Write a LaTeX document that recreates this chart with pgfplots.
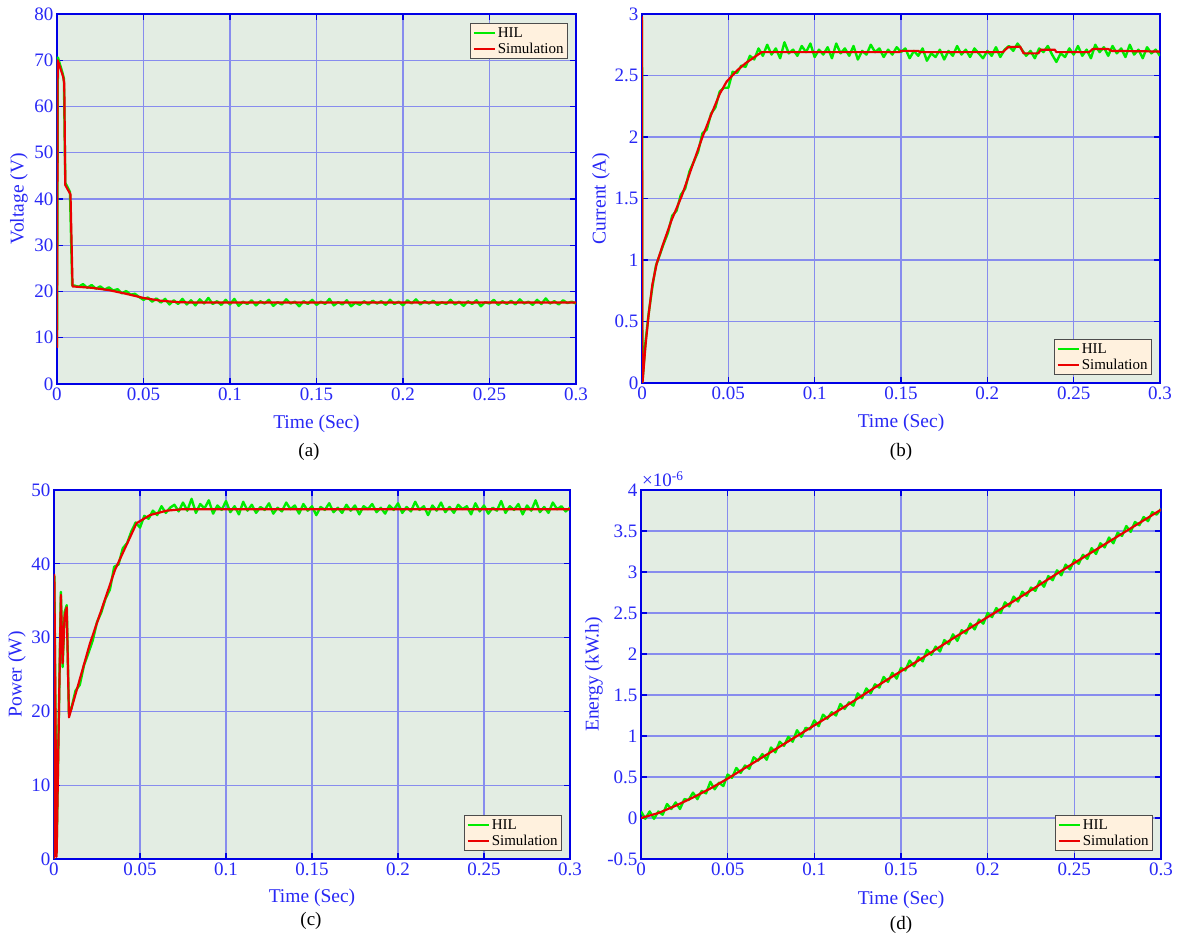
\documentclass[border=0pt]{standalone}
\usepackage{fontspec}
\setmainfont{Liberation Serif}
\usepackage{pgfplots}
\pgfplotsset{compat=1.18}
\definecolor{bgc}{RGB}{227,237,227}
\definecolor{legc}{RGB}{255,241,222}
\definecolor{gridc}{RGB}{135,140,238}
\definecolor{axc}{RGB}{0,0,230}
\definecolor{txtc}{RGB}{40,40,245}
\definecolor{hil}{RGB}{0,235,0}
\definecolor{sim}{RGB}{235,0,0}
\pgfplotsset{
 panel/.style={
  scale only axis, anchor=south west, clip mode=individual,
  axis background/.style={fill=bgc},
  xmin=0,xmax=0.3,
  xtick={0,0.05,0.1,0.15,0.2,0.25,0.3},
  xticklabels={0,0.05,0.1,0.15,0.2,0.25,0.3},
  grid=major, major grid style={gridc, line width=1.1pt},
  axis line style={axc, line width=1.3pt},
  major tick style={axc, line width=1.2pt}, major tick length=6pt,
  tick label style={text=txtc, font=\fontsize{19}{22}\selectfont},
  label style={text=txtc, font=\fontsize{19.5}{23}\selectfont},
  xlabel={Time (Sec)},
  legend cell align=left,
  legend style={fill=legc, draw=black!70, line width=0.8pt, font=\fontsize{15}{17}\selectfont, inner sep=2pt, row sep=0pt},
  legend image code/.code={\draw[#1] (0pt,0pt) -- (21pt,0pt);},
  every axis plot/.append style={line join=round},
 },
 hilst/.style={hil, line width=2.4pt},
 simst/.style={sim, line width=2.2pt},
}
\begin{document}
\begin{tikzpicture}
\useasboundingbox (0,0) rectangle (1179pt,935pt);
% ---------------- (a) ----------------
\begin{axis}[panel, at={(57pt,551pt)}, width=519pt, height=370pt,
  ymin=0, ymax=80, ytick={0,10,20,30,40,50,60,70,80}, yticklabels={0,10,20,30,40,50,60,70,80},
  ylabel={Voltage (V)},
  x label style={at={([yshift=-40pt]axis description cs:0.5,0)}, anchor=center},
  y label style={at={([xshift=-38pt]axis description cs:0,0.5)}, anchor=center},
  legend style={at={([xshift=-8pt,yshift=-9pt]rel axis cs:1,1)}, anchor=north east}]
\addplot[hilst] coordinates {
(0,8) (0.0005,70.6) (0.003,67.5) (0.004,66) (0.0048,43.5) (0.0075,41.5) (0.0088,21.3)
(0.0100,21.3) (0.0125,21.0) (0.0150,21.6) (0.0175,20.8) (0.0200,21.4) (0.0225,20.6)
(0.0250,21.1) (0.0275,20.4) (0.0300,20.9) (0.0325,20.2) (0.0350,20.5) (0.0375,19.6)
(0.0400,20.1) (0.0425,19.3) (0.0450,19.5) (0.0475,18.8) (0.0500,18.2) (0.0525,18.7)
(0.0550,17.8) (0.0575,18.5) (0.0600,17.6) (0.0625,18.4) (0.0650,17.2) (0.0675,18.1)
(0.0700,17.3) (0.0725,18.4) (0.0750,17.2) (0.0775,18.1) (0.0800,17.0) (0.0825,18.3)
(0.0850,17.4) (0.0875,18.6) (0.0900,17.3) (0.0925,17.9) (0.0950,17.1) (0.0975,18.2)
(0.1000,17.2) (0.1025,18.4) (0.1050,16.9) (0.1075,17.8) (0.1100,17.3) (0.1125,18.1)
(0.1150,17.0) (0.1175,17.9) (0.1200,17.4) (0.1225,18.2) (0.1250,16.9) (0.1275,17.7)
(0.1300,17.2) (0.1325,18.3) (0.1350,17.4) (0.1375,17.8) (0.1400,16.8) (0.1425,17.9)
(0.1450,17.3) (0.1475,18.2) (0.1500,17.1) (0.1525,17.8) (0.1550,17.3) (0.1575,18.4)
(0.1600,17.0) (0.1625,17.7) (0.1650,17.2) (0.1675,18.1) (0.1700,16.8) (0.1725,17.6)
(0.1750,17.1) (0.1775,17.9) (0.1800,17.2) (0.1825,18.0) (0.1850,17.4) (0.1875,17.9)
(0.1900,17.1) (0.1925,18.2) (0.1950,17.3) (0.1975,17.8) (0.2000,17.0) (0.2025,18.1)
(0.2050,17.4) (0.2075,18.3) (0.2100,17.2) (0.2125,17.9) (0.2150,17.4) (0.2175,18.0)
(0.2200,17.1) (0.2225,17.7) (0.2250,17.3) (0.2275,18.2) (0.2300,17.2) (0.2325,17.8)
(0.2350,16.9) (0.2375,17.9) (0.2400,17.3) (0.2425,18.1) (0.2450,16.8) (0.2475,17.7)
(0.2500,17.4) (0.2525,18.2) (0.2550,17.1) (0.2575,17.9) (0.2600,17.3) (0.2625,18.0)
(0.2650,17.2) (0.2675,18.3) (0.2700,17.4) (0.2725,17.8) (0.2750,17.1) (0.2775,18.2)
(0.2800,17.3) (0.2825,18.5) (0.2850,17.4) (0.2875,17.9) (0.2900,17.2) (0.2925,18.1)
(0.2950,17.5) (0.2975,17.8) (0.3000,17.4)
};
\addlegendentry{HIL}
\addplot[simst] coordinates {
(0,7.8) (0.0004,70) (0.0035,66.5) (0.0042,65) (0.0048,43) (0.0078,41) (0.009,21.1)
(0.02,20.8) (0.03,20.3) (0.04,19.5) (0.05,18.6) (0.06,18.0) (0.07,17.7) (0.08,17.6) (0.3,17.6)
};
\addlegendentry{Simulation}
\end{axis}
% ---------------- (b) ----------------
\begin{axis}[panel, at={(642pt,552pt)}, width=518pt, height=369pt,
  ymin=0, ymax=3, ytick={0,0.5,1,1.5,2,2.5,3}, yticklabels={0,0.5,1,1.5,2,2.5,3},
  ylabel={Current (A)},
  x label style={at={([yshift=-40pt]axis description cs:0.5,0)}, anchor=center},
  y label style={at={([xshift=-41pt]axis description cs:0,0.5)}, anchor=center},
  legend style={at={([xshift=-8pt,yshift=8pt]rel axis cs:1,0)}, anchor=south east}]
\addplot[hilst] coordinates {
(0,2.95) (0.0002,0.0) (0.002,0.33) (0.004,0.58) (0.006,0.78) (0.008,0.95) (0.010,1.03)
(0.0125,1.13) (0.015,1.22) (0.0175,1.36) (0.020,1.40) (0.0225,1.53) (0.025,1.58)
(0.0275,1.72) (0.030,1.80) (0.0325,1.88) (0.035,2.03) (0.0375,2.06) (0.040,2.19)
(0.0425,2.24) (0.045,2.37) (0.0475,2.40) (0.050,2.40) (0.0525,2.53) (0.055,2.52)
(0.0575,2.58) (0.060,2.57) (0.0625,2.66) (0.065,2.63) (0.0675,2.72) (0.070,2.66)
(0.0725,2.75) (0.075,2.67) (0.0775,2.72) (0.080,2.64) (0.0825,2.77) (0.085,2.68)
(0.0875,2.71) (0.090,2.66) (0.0925,2.74) (0.095,2.69) (0.0975,2.76) (0.100,2.65)
(0.1025,2.71) (0.105,2.67) (0.1075,2.73) (0.110,2.64) (0.1125,2.76) (0.115,2.68)
(0.1175,2.72) (0.120,2.66) (0.1225,2.74) (0.125,2.63) (0.1275,2.70) (0.130,2.67)
(0.1325,2.75) (0.135,2.69) (0.1375,2.72) (0.140,2.65) (0.1425,2.71) (0.145,2.67)
(0.1475,2.73) (0.150,2.69) (0.1525,2.72) (0.155,2.64) (0.1575,2.70) (0.160,2.66)
(0.1625,2.72) (0.165,2.62) (0.1675,2.68) (0.170,2.65) (0.1725,2.71) (0.175,2.63)
(0.1775,2.70) (0.180,2.66) (0.1825,2.74) (0.185,2.67) (0.1875,2.71) (0.190,2.65)
(0.1925,2.72) (0.195,2.68) (0.1975,2.64) (0.200,2.70) (0.2025,2.66) (0.205,2.73)
(0.2075,2.65) (0.210,2.71) (0.2125,2.74) (0.215,2.70) (0.2175,2.76) (0.220,2.71)
(0.2225,2.66) (0.225,2.70) (0.2275,2.64) (0.230,2.72) (0.2325,2.69) (0.235,2.74)
(0.2375,2.67) (0.240,2.61) (0.2425,2.68) (0.245,2.65) (0.2475,2.72) (0.250,2.67)
(0.2525,2.74) (0.255,2.66) (0.2575,2.71) (0.260,2.64) (0.2625,2.75) (0.265,2.69)
(0.2675,2.73) (0.270,2.66) (0.2725,2.74) (0.275,2.68) (0.2775,2.72) (0.280,2.65)
(0.2825,2.75) (0.285,2.67) (0.2875,2.71) (0.290,2.64) (0.2925,2.73) (0.295,2.68)
(0.2975,2.71) (0.300,2.66)
};
\addlegendentry{HIL}
\addplot[simst] coordinates {
(0,2.98) (0.0002,0.0) (0.0004,0.02) (0.002,0.3) (0.0037,0.54) (0.006,0.8) (0.0085,0.97)
(0.012,1.12) (0.017,1.32) (0.023,1.52) (0.03,1.8) (0.035,2.0) (0.04,2.18) (0.045,2.35)
(0.049,2.45) (0.055,2.54) (0.06,2.6) (0.0693,2.69) (0.149,2.69) (0.150,2.70) (0.160,2.70)
(0.161,2.69) (0.209,2.69) (0.212,2.73) (0.219,2.735) (0.221,2.68) (0.2295,2.68)
(0.231,2.71) (0.239,2.71) (0.240,2.69) (0.259,2.69) (0.261,2.715) (0.270,2.715)
(0.272,2.70) (0.3,2.695)
};
\addlegendentry{Simulation}
\end{axis}
% ---------------- (c) ----------------
\begin{axis}[panel, at={(54pt,76pt)}, width=516pt, height=369pt,
  ymin=0, ymax=50, ytick={0,10,20,30,40,50}, yticklabels={0,10,20,30,40,50},
  ylabel={Power (W)},
  x label style={at={([yshift=-39pt]axis description cs:0.5,0)}, anchor=center},
  y label style={at={([xshift=-37pt]axis description cs:0,0.5)}, anchor=center},
  legend style={at={([xshift=-8pt,yshift=8pt]rel axis cs:1,0)}, anchor=south east}]
\addplot[hilst] coordinates {
(0,0) (0.0002,38.3) (0.0015,0.8) (0.004,36.2) (0.005,26.0) (0.0062,33.5) (0.0074,34.4)
(0.0087,19.6) (0.010,20.3) (0.0125,22.8) (0.015,23.6) (0.0175,26.3) (0.020,27.9)
(0.0225,29.6) (0.025,32.1) (0.0275,33.4) (0.030,35.3) (0.0325,36.5) (0.035,39.6)
(0.0375,39.9) (0.040,42.1) (0.0425,42.8) (0.045,44.4) (0.0475,45.6) (0.050,44.9)
(0.0525,46.5) (0.055,46.1) (0.0575,47.2) (0.060,46.6) (0.0625,47.8) (0.065,46.9)
(0.0675,47.6) (0.070,48.0) (0.0725,47.1) (0.075,48.3) (0.0775,47.2) (0.080,48.8)
(0.0825,46.9) (0.085,48.1) (0.0875,47.5) (0.090,48.6) (0.0925,46.8) (0.095,47.9)
(0.0975,47.3) (0.100,48.5) (0.1025,47.0) (0.105,47.8) (0.1075,46.7) (0.110,48.4)
(0.1125,47.2) (0.115,48.0) (0.1175,46.9) (0.120,47.7) (0.1225,47.3) (0.125,48.2)
(0.1275,46.8) (0.130,47.6) (0.1325,47.1) (0.135,48.3) (0.1375,47.4) (0.140,47.9)
(0.1425,46.8) (0.145,48.1) (0.1475,47.2) (0.150,47.8) (0.1525,46.6) (0.155,47.7)
(0.1575,47.3) (0.160,48.2) (0.1625,47.0) (0.165,47.6) (0.1675,46.9) (0.170,48.0)
(0.1725,47.2) (0.175,47.9) (0.1775,46.7) (0.180,47.8) (0.1825,47.4) (0.185,48.1)
(0.1875,47.0) (0.190,47.6) (0.1925,46.8) (0.195,47.9) (0.1975,47.3) (0.200,48.2)
(0.2025,46.9) (0.205,47.7) (0.2075,47.1) (0.210,48.4) (0.2125,47.3) (0.215,47.8)
(0.2175,46.6) (0.220,47.9) (0.2225,47.2) (0.225,48.3) (0.2275,47.0) (0.230,47.7)
(0.2325,46.9) (0.235,48.0) (0.2375,47.4) (0.240,47.8) (0.2425,46.7) (0.245,48.2)
(0.2475,47.1) (0.250,47.9) (0.2525,46.8) (0.255,47.6) (0.2575,47.2) (0.260,48.5)
(0.2625,46.9) (0.265,47.8) (0.2675,47.3) (0.270,48.1) (0.2725,46.7) (0.275,47.9)
(0.2775,47.2) (0.280,48.6) (0.2825,47.0) (0.285,47.7) (0.2875,46.9) (0.290,48.3)
(0.2925,47.4) (0.295,47.8) (0.2975,47.1) (0.300,47.6)
};
\addlegendentry{HIL}
\addplot[simst] coordinates {
(0,0) (0.0002,38.5) (0.0015,0.3) (0.004,35.8) (0.005,26.5) (0.0062,33.0) (0.0074,34.1)
(0.0087,19.2) (0.0209,29.2) (0.0355,39.2) (0.048,45.5) (0.0558,46.6) (0.0655,47.2)
(0.075,47.4) (0.3,47.4)
};
\addlegendentry{Simulation}
\end{axis}
% ---------------- (d) ----------------
\begin{axis}[panel, at={(641pt,76pt)}, width=520pt, height=369pt,
  ymin=-0.5, ymax=4, ytick={-0.5,0,0.5,1,1.5,2,2.5,3,3.5,4}, yticklabels={-0.5,0,0.5,1,1.5,2,2.5,3,3.5,4},
  ylabel={Energy (kW.h)},
  x label style={at={([yshift=-41pt]axis description cs:0.5,0)}, anchor=center},
  y label style={at={([xshift=-47pt]axis description cs:0,0.5)}, anchor=center},
  legend style={at={([xshift=-8pt,yshift=8pt]rel axis cs:1,0)}, anchor=south east}]
\addplot[hilst] coordinates {
(0.0000,0.08) (0.0025,-0.01) (0.0050,0.08) (0.0075,-0.01) (0.0100,0.08) (0.0125,0.04)
(0.0150,0.17) (0.0175,0.11) (0.0200,0.19) (0.0225,0.11) (0.0250,0.23) (0.0275,0.22)
(0.0300,0.31) (0.0325,0.23) (0.0350,0.33) (0.0375,0.30) (0.0400,0.44) (0.0425,0.35)
(0.0450,0.43) (0.0475,0.39) (0.0500,0.53) (0.0525,0.49) (0.0550,0.61) (0.0575,0.55)
(0.0600,0.64) (0.0625,0.60) (0.0650,0.74) (0.0675,0.70) (0.0700,0.78) (0.0725,0.71)
(0.0750,0.86) (0.0775,0.80) (0.0800,0.93) (0.0825,0.88) (0.0850,0.99) (0.0875,0.93)
(0.0900,1.07) (0.0925,0.99) (0.0950,1.10) (0.0975,1.08) (0.1000,1.19) (0.1025,1.12)
(0.1050,1.26) (0.1075,1.21) (0.1100,1.29) (0.1125,1.25) (0.1150,1.39) (0.1175,1.33)
(0.1200,1.41) (0.1225,1.37) (0.1250,1.52) (0.1275,1.46) (0.1300,1.58) (0.1325,1.52)
(0.1350,1.63) (0.1375,1.59) (0.1400,1.72) (0.1425,1.66) (0.1450,1.77) (0.1475,1.70)
(0.1500,1.83) (0.1525,1.80) (0.1550,1.92) (0.1575,1.85) (0.1600,1.96) (0.1625,1.91)
(0.1650,2.05) (0.1675,1.99) (0.1700,2.09) (0.1725,2.03) (0.1750,2.17) (0.1775,2.12)
(0.1800,2.24) (0.1825,2.16) (0.1850,2.29) (0.1875,2.25) (0.1900,2.37) (0.1925,2.30)
(0.1950,2.42) (0.1975,2.37) (0.2000,2.50) (0.2025,2.45) (0.2050,2.56) (0.2075,2.50)
(0.2100,2.63) (0.2125,2.58) (0.2150,2.70) (0.2175,2.64) (0.2200,2.76) (0.2225,2.71)
(0.2250,2.81) (0.2275,2.77) (0.2300,2.89) (0.2325,2.82) (0.2350,2.95) (0.2375,2.90)
(0.2400,3.02) (0.2425,2.96) (0.2450,3.09) (0.2475,3.03) (0.2500,3.15) (0.2525,3.10)
(0.2550,3.21) (0.2575,3.16) (0.2600,3.29) (0.2625,3.22) (0.2650,3.35) (0.2675,3.30)
(0.2700,3.42) (0.2725,3.35) (0.2750,3.48) (0.2775,3.44) (0.2800,3.56) (0.2825,3.49)
(0.2850,3.61) (0.2875,3.57) (0.2900,3.67) (0.2925,3.62) (0.2950,3.73) (0.2975,3.70)
(0.3000,3.77)
};
\addlegendentry{HIL}
\addplot[simst] coordinates {
(0,0) (0.01,0.06) (0.02,0.15) (0.03,0.25) (0.04,0.36) (0.05,0.48) (0.06,0.61) (0.07,0.74)
(0.08,0.87) (0.09,1.00) (0.10,1.13) (0.12,1.39) (0.14,1.66) (0.16,1.92) (0.18,2.19)
(0.20,2.45) (0.22,2.71) (0.24,2.98) (0.26,3.24) (0.28,3.50) (0.30,3.76)
};
\addlegendentry{Simulation}
\node[anchor=south west, text=txtc, font=\fontsize{19}{22}\selectfont, inner sep=0pt] at ([xshift=1pt,yshift=3pt]rel axis cs:0,1) {×10\textsuperscript{-6}};
\end{axis}
% sub-figure labels
\node[font=\fontsize{19}{22}\selectfont] at (309pt,483pt) {(a)};
\node[font=\fontsize{19}{22}\selectfont] at (901pt,483pt) {(b)};
\node[font=\fontsize{19}{22}\selectfont] at (311pt,14pt) {(c)};
\node[font=\fontsize{19}{22}\selectfont] at (901pt,10pt) {(d)};
\end{tikzpicture}
\end{document}
